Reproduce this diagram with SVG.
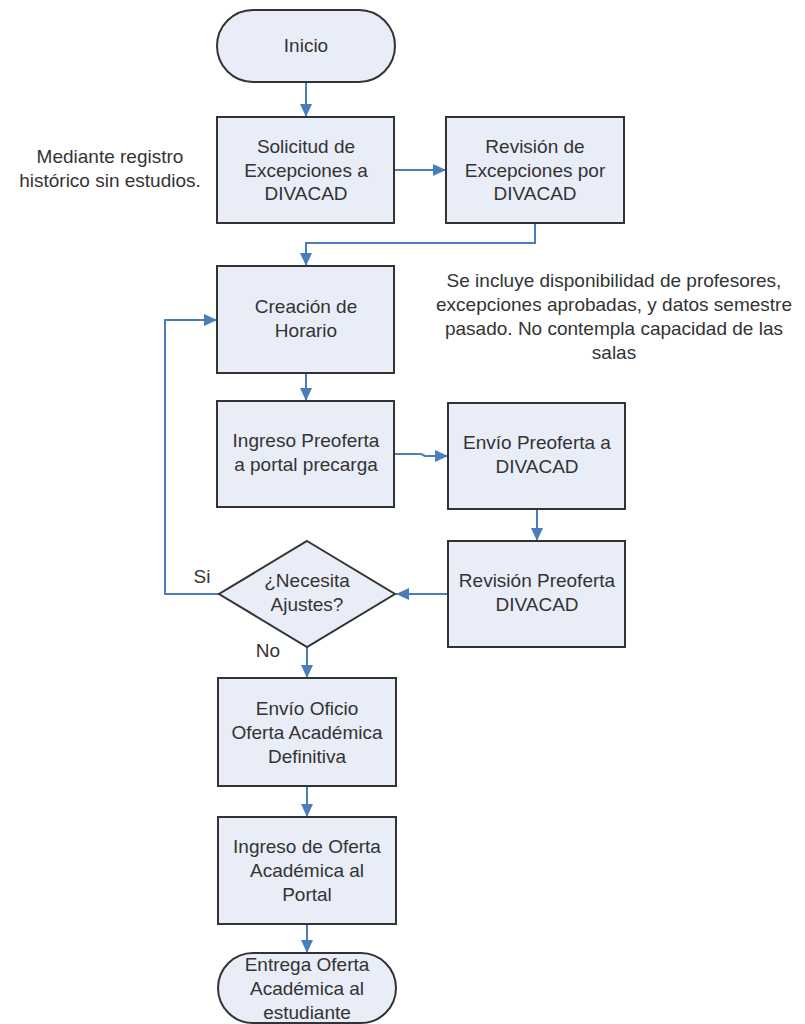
<svg xmlns="http://www.w3.org/2000/svg" width="805" height="1024" viewBox="0 0 805 1024">
<style>
.box{fill:#e8edf7;stroke:#333;stroke-width:2}
.t{font-family:"Liberation Sans",Arial,sans-serif;font-size:19px;fill:#333;text-anchor:middle}
.c{fill:none;stroke:#4a7ebb;stroke-width:2}
</style>
<defs>
<marker id="ah" markerUnits="userSpaceOnUse" markerWidth="14" markerHeight="14" viewBox="0 0 14 14" refX="13" refY="7" orient="auto">
<path d="M0,1 L13,7 L0,13 Z" fill="#4a7ebb"/>
</marker>
</defs>
<rect width="805" height="1024" fill="#fff"/>
<g id="connectors">
<path class="c" d="M306,82 V117" marker-end="url(#ah)"/>
<path class="c" d="M394,170 H446" marker-end="url(#ah)"/>
<path class="c" d="M535,223 V243 H306 V266" marker-end="url(#ah)"/>
<path class="c" d="M306,373 V401" marker-end="url(#ah)"/>
<path class="c" d="M394,454 H421 L425,456 H448" marker-end="url(#ah)"/>
<path class="c" d="M537,509 V541" marker-end="url(#ah)"/>
<path class="c" d="M448,594 H396" marker-end="url(#ah)"/>
<path class="c" d="M219,594 H165 V320 H217" marker-end="url(#ah)"/>
<path class="c" d="M307,647 V678" marker-end="url(#ah)"/>
<path class="c" d="M307,786 V817" marker-end="url(#ah)"/>
<path class="c" d="M307,924 V953" marker-end="url(#ah)"/>
</g>
<g id="inicio"><rect class="box" x="217" y="10" width="178" height="72" rx="36" ry="36"/><text class="t" x="306" y="52">Inicio</text></g>
<g id="solicitud"><rect class="box" x="217" y="117" width="177" height="106"/><text class="t" x="306" y="153">Solicitud de</text><text class="t" x="306" y="177">Excepciones a</text><text class="t" x="306" y="200">DIVACAD</text></g>
<g id="revision-excepciones"><rect class="box" x="446" y="117" width="178" height="106"/><text class="t" x="535" y="153">Revisión de</text><text class="t" x="535" y="177">Excepciones por</text><text class="t" x="535" y="200">DIVACAD</text></g>
<g id="nota-mediante"><text class="t" x="110" y="163">Mediante registro</text><text class="t" x="110" y="187">histórico sin estudios.</text></g>
<g id="creacion"><rect class="box" x="217" y="266" width="177" height="107"/><text class="t" x="306" y="313">Creación de</text><text class="t" x="306" y="337">Horario</text></g>
<g id="nota-incluye"><text class="t" x="614" y="287">Se incluye disponibilidad de profesores,</text><text class="t" x="614" y="311">excepciones aprobadas, y datos semestre</text><text class="t" x="614" y="335">pasado. No contempla capacidad de las</text><text class="t" x="614" y="359">salas</text></g>
<g id="ingreso-preoferta"><rect class="box" x="217" y="401" width="177" height="106"/><text class="t" x="306" y="447">Ingreso Preoferta</text><text class="t" x="306" y="471">a portal precarga</text></g>
<g id="envio-preoferta"><rect class="box" x="448" y="403" width="177" height="106"/><text class="t" x="537" y="449">Envío Preoferta a</text><text class="t" x="537" y="473">DIVACAD</text></g>
<g id="revision-preoferta"><rect class="box" x="448" y="541" width="177" height="106"/><text class="t" x="537" y="587">Revisión Preoferta</text><text class="t" x="537" y="611">DIVACAD</text></g>
<g id="decision"><polygon class="box" points="307,541 395,594 307,647 219,594"/><text class="t" x="307" y="587">¿Necesita</text><text class="t" x="307" y="611">Ajustes?</text></g>
<g id="labels"><text class="t" x="202" y="583">Si</text><text class="t" x="268" y="657">No</text></g>
<g id="envio-oficio"><rect class="box" x="218" y="678" width="178" height="108"/><text class="t" x="307" y="715">Envío Oficio</text><text class="t" x="307" y="739">Oferta Académica</text><text class="t" x="307" y="763">Definitiva</text></g>
<g id="ingreso-oferta"><rect class="box" x="218" y="817" width="178" height="107"/><text class="t" x="307" y="853">Ingreso de Oferta</text><text class="t" x="307" y="877">Académica al</text><text class="t" x="307" y="901">Portal</text></g>
<g id="entrega"><rect class="box" x="218" y="953" width="178" height="70" rx="35" ry="35"/><text class="t" x="307" y="971">Entrega Oferta</text><text class="t" x="307" y="995">Académica al</text><text class="t" x="307" y="1019">estudiante</text></g>
</svg>
